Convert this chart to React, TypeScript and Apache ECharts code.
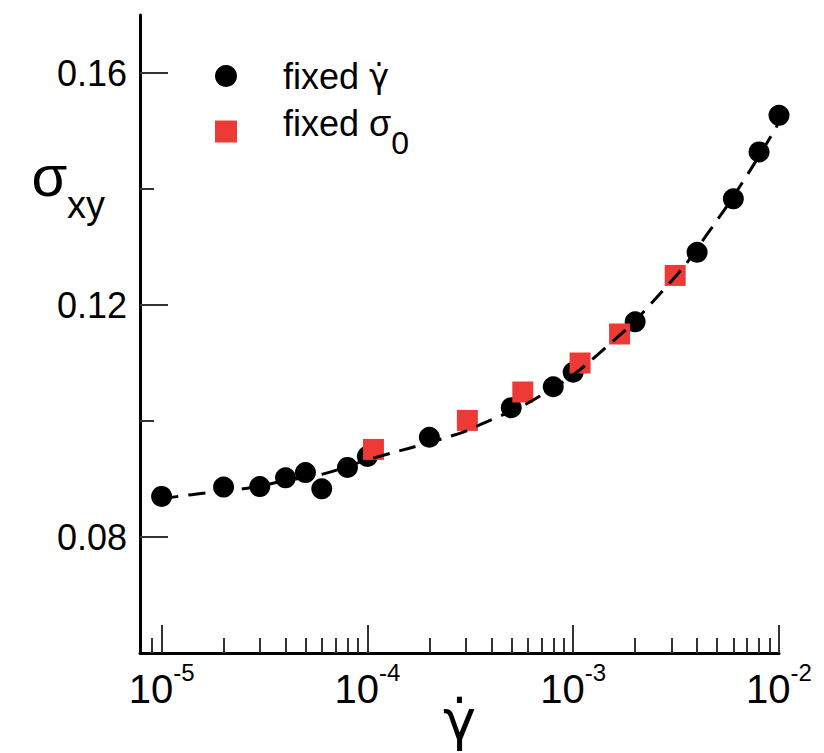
import React, { useEffect, useRef } from 'react';
import * as echarts from 'echarts';

// fixed shear rate runs (circles)
const fixedRateX = [1e-5, 2e-5, 3e-5, 4e-5, 5e-5, 6e-5, 8e-5, 1e-4, 2e-4, 5e-4, 8e-4, 1e-3, 2e-3, 4e-3, 6e-3, 8e-3, 1e-2];
const fixedRateY = [0.0870, 0.0886, 0.0887, 0.0902, 0.0911, 0.0883, 0.0920, 0.0939, 0.0972, 0.1023, 0.1059, 0.1084, 0.1171, 0.1291, 0.1383, 0.1464, 0.1527];

// fixed stress runs (squares)
const fixedStressX = [1.07e-4, 3.06e-4, 5.69e-4, 1.08e-3, 1.68e-3, 3.13e-3];
const fixedStressY = [0.0951, 0.1001, 0.1050, 0.1100, 0.1150, 0.1251];

// dashed fit curve
const fitX = [1e-5, 1.4e-5, 2.6e-5, 4e-5, 6e-5, 1e-4, 2.6e-4, 3.6e-4, 6.9e-4, 1.35e-3, 2.96e-3, 4.64e-3, 7e-3, 1e-2];
const fitY = [0.0866, 0.0873, 0.0884, 0.0897, 0.0908, 0.0933, 0.0975, 0.0995, 0.1043, 0.1118, 0.1239, 0.1330, 0.1424, 0.1515];

// ticks
const majorXTicks = [1e-5, 1e-4, 1e-3, 1e-2];
const minorXTicks = [9e-6, 2e-5, 3e-5, 4e-5, 5e-5, 6e-5, 7e-5, 8e-5, 9e-5, 2e-4, 3e-4, 4e-4, 5e-4, 6e-4, 7e-4, 8e-4, 9e-4, 2e-3, 3e-3, 4e-3, 5e-3, 6e-3, 7e-3, 8e-3, 9e-3];
const majorYTicks = [0.08, 0.12, 0.16];
const minorYTicks = [0.10, 0.14];

const seriesNames = ['fixed γ̇', 'fixed σ0'];

const lg = (v: number) => Math.log10(v);

export default function App() {
  const ref = useRef<HTMLDivElement>(null);
  useEffect(() => {
    document.body.style.margin = '0';
    const chart = echarts.init(ref.current!, null, { renderer: 'svg' });
    const font = "'Liberation Sans', Arial, Helvetica, sans-serif";
    const gFont = "'DejaVu Sans', sans-serif";
    const xMin = -5.105;
    const xMax = -2;
    const yMin = 0.06;
    const yMax = 0.17;
    const tickColor = '#333';
    chart.setOption({
      animation: false,
      grid: { left: 140, right: 45, top: 15, bottom: 100, containLabel: false, outerBoundsMode: 'none' },
      xAxis: [
        {
          type: 'value', position: 'bottom', min: xMin, max: xMax,
          axisLine: { show: true, onZero: false, lineStyle: { color: '#000', width: 3 } },
          axisTick: { show: true, inside: true, length: 28, customValues: majorXTicks.map(lg), lineStyle: { color: tickColor, width: 2 } },
          axisLabel: {
            show: true, customValues: majorXTicks.map(lg), margin: 16,
            formatter: (v: number) => `{b|10}{s|${Math.round(v)}}`,
            rich: {
              b: { fontSize: 40, lineHeight: 40, fontFamily: font, color: '#000' },
              s: { fontSize: 24, lineHeight: 24, padding: [0, 0, 33, 0], fontFamily: font, color: '#000' },
            },
          },
          splitLine: { show: false },
          name: 'γ̇', nameLocation: 'middle', nameGap: 38, nameMoveOverlap: false,
          nameTextStyle: { fontSize: 56, fontFamily: gFont, color: '#000' },
        },
        {
          type: 'value', position: 'bottom', min: xMin, max: xMax,
          axisLine: { show: false, onZero: false },
          axisTick: { show: true, inside: true, length: 15, customValues: minorXTicks.map(lg), lineStyle: { color: tickColor, width: 2 } },
          axisLabel: { show: false },
          splitLine: { show: false },
        },
      ],
      yAxis: [
        {
          type: 'value', position: 'left', min: yMin, max: yMax,
          axisLine: { show: true, onZero: false, lineStyle: { color: '#000', width: 3 } },
          axisTick: { show: true, inside: true, length: 28, customValues: majorYTicks, lineStyle: { color: tickColor, width: 2 } },
          axisLabel: {
            show: true, customValues: majorYTicks, margin: 13,
            formatter: (v: number) => v.toFixed(2),
            fontSize: 36, fontFamily: font, color: '#000',
          },
          splitLine: { show: false },
        },
        {
          type: 'value', position: 'left', min: yMin, max: yMax,
          axisLine: { show: false, onZero: false },
          axisTick: { show: true, inside: true, length: 14, customValues: minorYTicks, lineStyle: { color: tickColor, width: 2 } },
          axisLabel: { show: false },
          splitLine: { show: false },
        },
      ],
      legend: {
        orient: 'vertical', left: 215, top: 58, padding: 0, itemGap: 10,
        itemWidth: 22, itemHeight: 22, selectedMode: false,
        data: [
          { name: seriesNames[0], icon: 'circle', itemStyle: { color: '#000', opacity: 1 } },
          { name: seriesNames[1], icon: 'rect', itemStyle: { color: '#ee3a37', opacity: 1 } },
        ],
        formatter: (n: string) => (n === seriesNames[1] ? '{m|fixed σ}{s|0}' : '{a|fixed }{g|γ̇}'),
        textStyle: {
          fontFamily: font, fontSize: 36, color: '#000', padding: [0, 0, 0, 41],
          rich: {
            a: { fontSize: 36, lineHeight: 40, fontFamily: font, color: '#000' },
            g: { fontSize: 34, lineHeight: 40, fontFamily: gFont, color: '#000' },
            m: { fontSize: 36, lineHeight: 40, padding: [0, 0, 16, 0], fontFamily: font, color: '#000' },
            s: { fontSize: 32, lineHeight: 32, padding: [23, 0, 0, 0], fontFamily: font, color: '#000' },
          },
        },
      },
      graphic: [
        { type: 'text', x: 49.5, y: 175, style: { text: 'σ', fontSize: 58, fontFamily: font, fill: '#000', align: 'center', verticalAlign: 'middle' } },
        { type: 'text', x: 67, y: 205, style: { text: 'xy', fontSize: 38, fontFamily: font, fill: '#000', align: 'left', verticalAlign: 'middle' } },
      ],
      series: [
        {
          name: seriesNames[0], type: 'scatter', xAxisIndex: 0, yAxisIndex: 0, z: 2,
          symbol: 'circle', symbolSize: 21,
          itemStyle: { color: '#000', opacity: 1 },
          data: fixedRateX.map((x, i) => [lg(x), fixedRateY[i]]),
        },
        {
          name: seriesNames[1], type: 'scatter', xAxisIndex: 0, yAxisIndex: 0, z: 3,
          symbol: 'rect', symbolSize: 21,
          itemStyle: { color: '#ee3a37', opacity: 1 },
          data: fixedStressX.map((x, i) => [lg(x), fixedStressY[i]]),
        },
        {
          name: 'fit', type: 'line', xAxisIndex: 0, yAxisIndex: 0, z: 4,
          smooth: true, symbol: 'none',
          lineStyle: { color: '#000', width: 3, type: [17, 10] },
          data: fitX.map((x, i) => [lg(x), fitY[i]]),
        },
      ],
    });
    return () => chart.dispose();
  }, []);
  return <div ref={ref} style={{ width: 824, height: 753 }} />;
}
